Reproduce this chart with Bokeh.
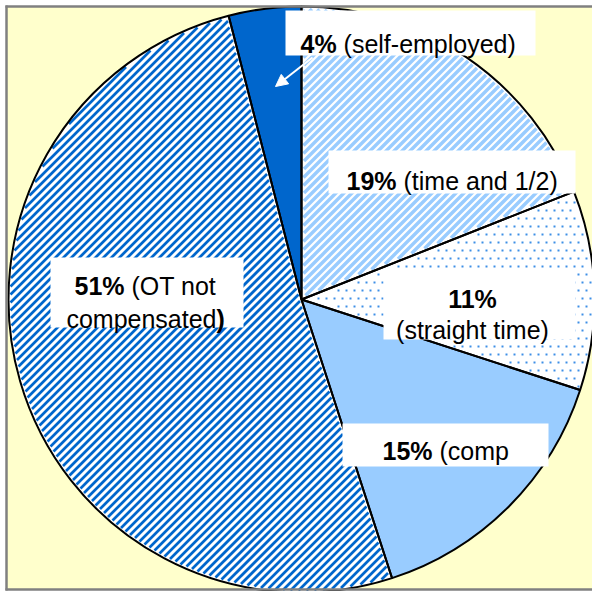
import math
import numpy as np
from bokeh.plotting import figure
from bokeh.models import Range1d, Arrow, NormalHead
from bokeh.core.properties import value
from bokeh.embed import file_html
from bokeh.resources import INLINE

# ---- data (clockwise from 12 o'clock) ----
categories = ["time and 1/2", "straight time", "comp", "OT not compensated", "self-employed"]
shares = [19, 11, 15, 51, 4]

# ---- per-slice styling ----
styles = {
    "time and 1/2": dict(base="white", kind="stripes", color="#99CCFF", width=3.4),
    "straight time": dict(base="white", kind="dots", color="#3D8FE6"),
    "comp": dict(base="#99CCFF", kind=None),
    "OT not compensated": dict(base="white", kind="stripes", color="#0066CC", width=2.7),
    "self-employed": dict(base="#0066CC", kind=None),
}

FONT = value("Liberation Sans")
PX = 25
FS = f"{PX}px"
W, H = 592, 591

p = figure(width=W, height=H, output_backend="svg", toolbar_location=None,
           x_range=Range1d(0, W), y_range=Range1d(-H, 0),
           x_axis_type=None, y_axis_type=None, min_border=0,
           background_fill_color="white", border_fill_color="white",
           outline_line_color=None)
p.grid.visible = False

# chart area background
p.quad(left=6, right=W + 10, top=-6, bottom=-589, fill_color="#FFFFCC", line_color=None)

CX, CY, R = 301, 299, 293   # centre (screen px, y down) and radius
total = sum(shares)
bounds = []
cum = 0.0
for s in shares:
    t0 = 2 * math.pi * cum / total
    cum += s
    bounds.append((t0, 2 * math.pi * cum / total))


def inside(px, py, t0, t1, margin=1.3):
    dx = px - CX
    dy = CY - py
    rho = np.hypot(dx, dy)
    th = np.mod(np.arctan2(dx, dy), 2 * math.pi)
    ok = (rho <= R - margin) & (th >= t0) & (th <= t1)
    d0 = rho * np.sin(np.clip(th - t0, 0, math.pi / 2))
    d1 = rho * np.sin(np.clip(t1 - th, 0, math.pi / 2))
    return ok & (d0 >= margin) & (d1 >= margin)


# base fills
for cat, (t0, t1) in zip(categories, bounds):
    st = styles[cat]
    p.wedge(x=CX, y=-CY, radius=R, start_angle=math.pi / 2 - t0, end_angle=math.pi / 2 - t1,
            direction="clock", fill_color=st["base"], line_color=None)

# patterns
xs_samp = np.arange(0, W + 0.5, 0.5)
for cat, (t0, t1) in zip(categories, bounds):
    st = styles[cat]
    if st["kind"] == "stripes":
        xs, ys = [], []
        for c in np.arange(-8 * 80, 8 * 160, 8):
            py = c - xs_samp
            m = inside(xs_samp, py, t0, t1, margin=st["width"] / 2 + 0.3)
            if not m.any():
                continue
            mi = m.astype(int)
            starts = np.where(np.diff(np.r_[0, mi]) == 1)[0]
            ends = np.where(np.diff(np.r_[mi, 0]) == -1)[0]
            for a, b in zip(starts, ends):
                if b > a:
                    xs.append([xs_samp[a], xs_samp[b]])
                    ys.append([-(c - xs_samp[a]), -(c - xs_samp[b])])
        p.multi_line(xs=xs, ys=ys, line_color=st["color"], line_width=st["width"], line_cap="butt")
    elif st["kind"] == "dots":
        gx, gy = [], []
        for row, yy in enumerate(np.arange(2, H, 8)):
            xx = np.arange(2 + (4 if row % 2 else 0), W, 8)
            m = inside(xx, np.full_like(xx, yy, dtype=float), t0, t1, margin=2.5)
            gx.extend(xx[m].tolist())
            gy.extend([-yy] * int(m.sum()))
        p.rect(x=gx, y=gy, width=2, height=2, fill_color=st["color"], line_color=None)

# outlines
for cat, (t0, t1) in zip(categories, bounds):
    p.wedge(x=CX, y=-CY, radius=R, start_angle=math.pi / 2 - t0, end_angle=math.pi / 2 - t1,
            direction="clock", fill_color=None, line_color="black", line_width=2)

# frame lines (left, top, bottom)
p.line(x=[6, 6], y=[-5, -590], line_color="#808080", line_width=2.5)
p.line(x=[5, W + 5], y=[-6, -6], line_color="#808080", line_width=2.5)
p.line(x=[5, W + 5], y=[-589, -589], line_color="#808080", line_width=2.5)

# ---- label boxes (left, right, top, bottom in px) ----
boxes = {
    "time and 1/2": (328, 575, 150, 193),
    "straight time": (383, 575, 269, 339),
    "comp": (342, 548, 423, 466),
    "OT not compensated": (50, 243, 257, 327),
    "self-employed": (285, 535, 10, 55),
}
for k in categories:
    l, rr, t, b = boxes[k]
    p.quad(left=l, right=rr, top=-t, bottom=-b, fill_color="white", line_color=None)

# arrow for the self-employed label
p.add_layout(Arrow(x_start=312, y_start=-57, x_end=275, y_end=-86, line_color="white",
                   line_width=2, end=NormalHead(size=12, fill_color="white", line_color="white")))

# advance widths (Liberation Sans Bold, per 1000 em)
def bold_w(t):
    w = {"%": 889, ")": 333}
    return sum(w.get(c, 556) for c in t) * PX / 1000.0

SPACE = 278 * PX / 1000.0
pct = {c: f"{s}%" for c, s in zip(categories, shares)}

def txt(x, y, t, bold=False, align="left"):
    p.text(x=[x], y=[-y], text=[t], text_font=FONT, text_font_size=FS,
           text_font_style="bold" if bold else "normal", text_align=align,
           text_baseline="alphabetic", text_color="black")

def mixed(x, y, bold, regular):
    txt(x, y, bold, bold=True)
    txt(x + bold_w(bold) + SPACE, y, regular)

mixed(300, 43, pct["self-employed"], "(self-employed)")
mixed(346, 180, pct["time and 1/2"], "(time and 1/2)")
mixed(382, 450, pct["comp"], "(comp")
mixed(74, 285, pct["OT not compensated"], "(OT not")

# centered two-line label for straight time
txt(472, 298, pct["straight time"], bold=True, align="center")
txt(472, 329, "(straight time)", align="center")

# second line of OT label: "compensated" + bold ")"
txt(216, 318, "compensated", align="right")
txt(216, 318, ")", bold=True)

open("out.html", "w").write(file_html(p, INLINE))
